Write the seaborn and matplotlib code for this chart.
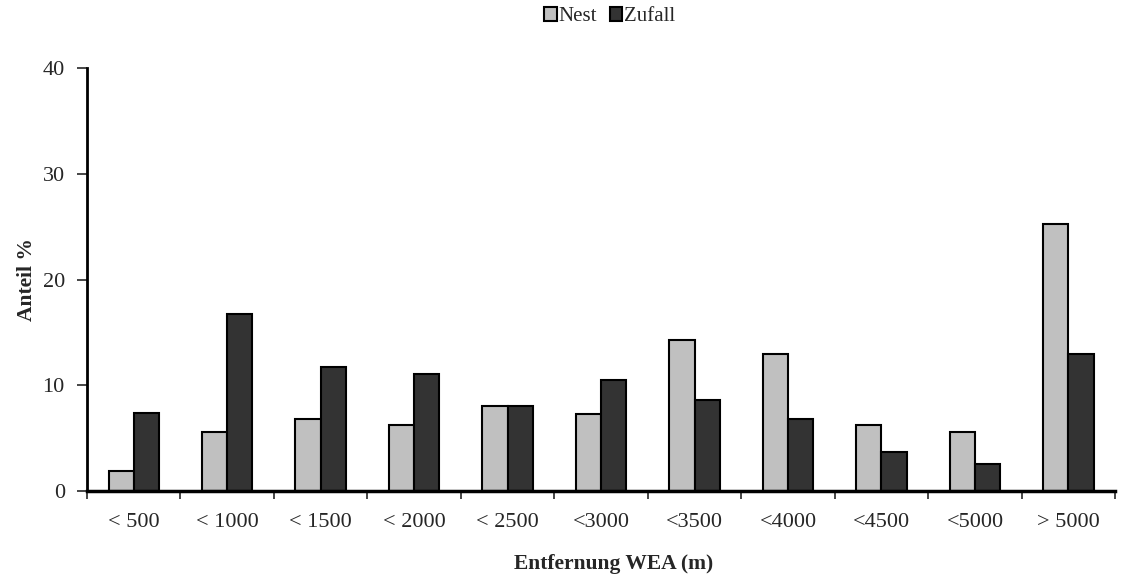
import matplotlib
matplotlib.use('Agg')
import matplotlib.pyplot as plt
import seaborn as sns
import pandas as pd
import numpy as np

# ─── Data ─────────────────────────────────────────────────────────────────────

categories = ['< 500', '< 1000', '< 1500', '< 2000', '< 2500', '<3000',
              '<3500', '<4000', '<4500', '<5000', '> 5000']
nest   = [1.9, 5.6, 6.8, 6.2, 8.0, 7.3, 14.3, 13.0, 6.2, 5.6, 25.3]
zufall = [7.4, 16.7, 11.7, 11.1, 8.0, 10.5, 8.6, 6.8, 3.7, 2.6, 13.0]
series = ['Nest', 'Zufall']
colors = ['#C0C0C0', '#333333']

df = pd.DataFrame({
    'cat':   categories * 2,
    'value': nest + zufall,
    'group': [series[0]] * len(categories) + [series[1]] * len(categories),
})

# ─── Plot ─────────────────────────────────────────────────────────────────────

sns.set_style('white')
plt.rcParams['font.family'] = ['Liberation Serif', 'DejaVu Serif']

fig = plt.figure(figsize=(11.23, 5.77), dpi=100)
ax = fig.add_axes([0.0775, 0.149, 0.9155, 0.733])

sns.barplot(data=df, x='cat', y='value', hue='group', order=categories,
            hue_order=series, palette=colors, width=0.54, gap=0,
            edgecolor='black', linewidth=1.5, ax=ax, legend=True)

ax.set_ylim(0, 40)
ax.set_xlim(-0.5, len(categories) - 0.5)
ax.set_yticks([0, 10, 20, 30, 40])
ax.tick_params(axis='y', labelsize=16, direction='out', length=7, width=1.2,
               left=True, pad=9)

# ticks between categories, labels at centers
ax.set_xticks(np.arange(-0.5, len(categories), 1.0))
ax.set_xticklabels([])
ax.set_xticks(np.arange(len(categories)), minor=True)
ax.set_xticklabels(categories, minor=True)
ax.tick_params(axis='x', which='major', direction='out', length=6, width=1.2,
               bottom=True)
ax.tick_params(axis='x', which='minor', length=0, labelsize=16, pad=16)

for side in ['top', 'right']:
    ax.spines[side].set_visible(False)
ax.spines['left'].set_linewidth(2)
ax.spines['bottom'].set_linewidth(2.5)
ax.spines['left'].set_color('black')
ax.spines['bottom'].set_color('black')

ax.set_xlabel('Entfernung WEA (m)', fontsize=15.5, fontweight='bold')
ax.xaxis.set_label_coords(0.512, -0.148)
ax.set_ylabel('Anteil %', fontsize=15.5, fontweight='bold', labelpad=4)

handles, labels = ax.get_legend_handles_labels()
ax.legend(handles, labels, loc='center', bbox_to_anchor=(0.543, 0.971),
          bbox_transform=fig.transFigure, ncol=2, frameon=False,
          fontsize=15, handlelength=0.6, handleheight=0.6,
          handletextpad=0.1, columnspacing=0.6)

plt.savefig('out.png', dpi=100)
plt.close()
